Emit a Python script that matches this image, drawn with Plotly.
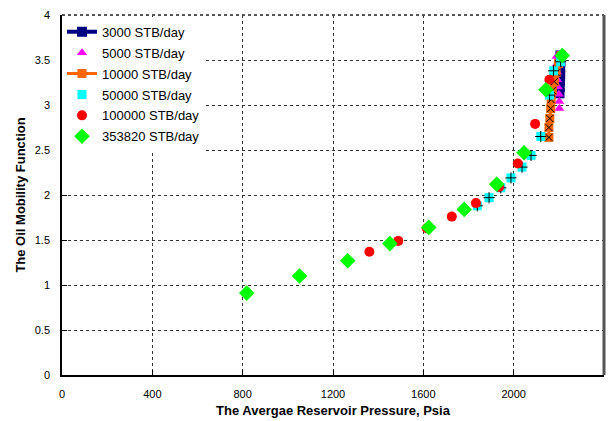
import plotly.graph_objects as go

# Average reservoir pressure (psia) and oil mobility function for each production rate
p_3000 = [2207, 2207, 2206, 2206, 2205, 2204, 2203]
f_3000 = [3.55, 3.48, 3.41, 3.34, 3.27, 3.20, 3.13]

p_5000 = [2190, 2190, 2191, 2193, 2196, 2200, 2202, 2202]
f_5000 = [3.54, 3.45, 3.37, 3.28, 3.20, 3.12, 3.04, 2.96]

p_10000 = [2210, 2198, 2188, 2180, 2172, 2166, 2164, 2160, 2156, 2156]
f_10000 = [3.55, 3.46, 3.36, 3.26, 3.16, 3.06, 2.96, 2.85, 2.75, 2.64]

p_50000 = [1839, 1891, 1943, 1988, 2037, 2077, 2120, 2159, 2177, 2208]
f_50000 = [1.88, 1.97, 2.08, 2.19, 2.31, 2.44, 2.65, 3.11, 3.38, 3.48]

p_100000 = [1361, 1489, 1615, 1726, 1833, 1936, 2018, 2095, 2158]
f_100000 = [1.37, 1.49, 1.63, 1.76, 1.91, 2.09, 2.35, 2.79, 3.28]

p_353820 = [818, 1052, 1265, 1452, 1624, 1781, 1925, 2046, 2143, 2215]
f_353820 = [0.91, 1.10, 1.27, 1.46, 1.64, 1.84, 2.12, 2.47, 3.17, 3.55]

x_ticks = [0, 400, 800, 1200, 1600, 2000, 2400]
y_ticks = [0, 0.5, 1, 1.5, 2, 2.5, 3, 3.5, 4]

fig = go.Figure()

fig.add_trace(go.Scatter(
    x=p_3000, y=f_3000, mode="lines+markers", name="3000 STB/day",
    legendgroup="r3000",
    line=dict(color="#000080", width=4),
    marker=dict(symbol="square", size=10, color="#000080"),
))
fig.add_trace(go.Scatter(
    x=p_5000, y=f_5000, mode="markers", name="5000 STB/day",
    legendgroup="r5000",
    marker=dict(symbol="triangle-up", size=9, color="#ff00ff"),
))
fig.add_trace(go.Scatter(
    x=p_10000, y=f_10000, mode="lines+markers", name="10000 STB/day",
    legendgroup="r10000",
    line=dict(color="#ff6600", width=3),
    marker=dict(symbol="square", size=9, color="#ff6600"),
))
fig.add_trace(go.Scatter(
    x=p_10000, y=f_10000, mode="markers", showlegend=False,
    legendgroup="r10000", hoverinfo="skip",
    marker=dict(symbol="x-thin-open", size=7, color="black",
                line=dict(color="black", width=1)),
))
fig.add_trace(go.Scatter(
    x=p_50000, y=f_50000, mode="markers", name="50000 STB/day",
    legendgroup="r50000",
    marker=dict(symbol="square", size=9, color="#00ffff"),
))
fig.add_trace(go.Scatter(
    x=p_50000, y=f_50000, mode="markers", showlegend=False,
    legendgroup="r50000", hoverinfo="skip",
    marker=dict(symbol="cross-thin-open", size=8, color="black",
                line=dict(color="black", width=1)),
))
fig.add_trace(go.Scatter(
    x=p_100000, y=f_100000, mode="markers", name="100000 STB/day",
    legendgroup="r100000",
    marker=dict(symbol="circle", size=10, color="#ff0000"),
))
fig.add_trace(go.Scatter(
    x=p_353820, y=f_353820, mode="markers", name="353820 STB/day",
    legendgroup="r353820",
    marker=dict(symbol="diamond", size=12, color="#00ff00"),
))

font_family = "Liberation Sans, Arial, sans-serif"

fig.update_layout(
    width=615, height=421,
    margin=dict(l=62, r=11, t=15, b=46),
    paper_bgcolor="white", plot_bgcolor="white",
    font=dict(family=font_family, size=11, color="black"),
    showlegend=True,
    legend=dict(
        x=0.0, y=0.995, xanchor="left", yanchor="top",
        bgcolor="white", borderwidth=0,
        font=dict(size=13, color="black"),
        tracegroupgap=1, itemwidth=30,
    ),
    xaxis=dict(
        range=[0, 2400], tickvals=x_ticks, ticktext=[str(v) for v in x_ticks],
        showgrid=True, gridcolor="#333333", griddash="dot", gridwidth=1,
        showline=True, linecolor="black", linewidth=1.5,
        ticks="inside", ticklen=5, tickcolor="black",
        ticklabelstandoff=8, automargin=False,
        zeroline=False,
        title=dict(text="<b>The Avergae Reservoir Pressure, Psia</b>",
                   font=dict(size=13), standoff=7),
    ),
    yaxis=dict(
        range=[0, 4], tickvals=y_ticks, ticktext=[f"{v:g}" for v in y_ticks],
        showgrid=True, gridcolor="#333333", griddash="dot", gridwidth=1,
        showline=True, linecolor="black", linewidth=1.5,
        ticks="inside", ticklen=5, tickcolor="black",
        ticklabelstandoff=8, automargin=False,
        zeroline=False,
        title=dict(text="<b>The Oil Mobility Function</b>",
                   font=dict(size=13), standoff=6),
    ),
)

# Plot frame: dotted top edge and heavier right edge
fig.add_shape(type="line", xref="paper", yref="paper", x0=0, x1=1, y0=1, y1=1,
              line=dict(color="#555555", width=2, dash="dot"))
fig.add_shape(type="line", xref="paper", yref="paper", x0=1, x1=1, y0=0, y1=1,
              line=dict(color="#555555", width=3))

fig.write_html("out.html")
